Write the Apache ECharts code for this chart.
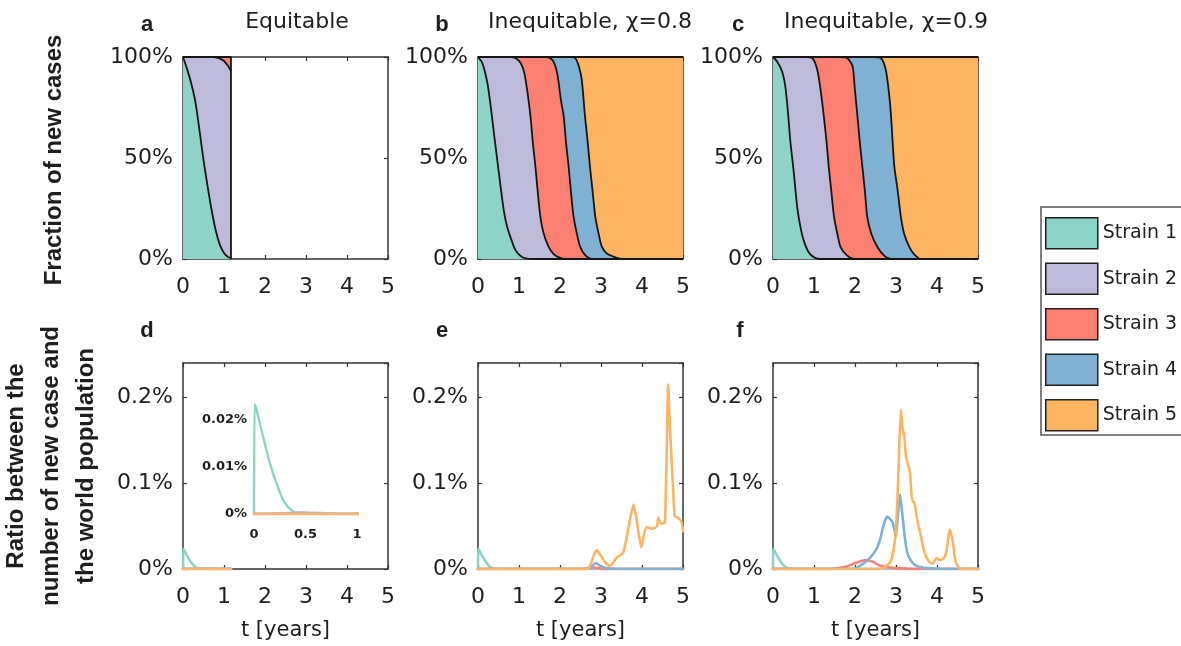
<!DOCTYPE html>
<html>
<head>
<meta charset="utf-8">
<script src="https://cdn.jsdelivr.net/npm/echarts@6/dist/echarts.min.js"></script>
<style>
  html, body { margin: 0; padding: 0; background: #fff; }
  #chart { width: 1181px; height: 646px; }
</style>
</head>
<body>
<div id="chart"></div>
<script>
// ---------------- labels ----------------
const strainNames = ['Strain 1', 'Strain 2', 'Strain 3', 'Strain 4', 'Strain 5'];
const panelLetters = ['a', 'b', 'c', 'd', 'e', 'f'];
const panelTitles = ['Equitable', 'Inequitable, χ=0.8', 'Inequitable, χ=0.9'];
const yLabelTop = 'Fraction of new cases';
const yLabelBottom = 'Ratio between the\nnumber of new case and\nthe world population';
const xLabel = 't [years]';

// ---------------- top row: cumulative share of new cases (%), strains 1..k ----------------
// Equitable (simulation stops at t = 1.17)
const aCum1 = [[0,100],[0.1,94],[0.2,87],[0.3,78],[0.4,64],[0.5,49],[0.6,36],[0.7,24],[0.8,14],[0.9,7],[1.0,3],[1.1,1],[1.17,0.5]];
const aCum2 = [[0,100],[0.75,100],[0.8,99.8],[0.9,99.2],[1.0,98],[1.1,95.5],[1.17,93]];
const aCum3 = [[0,100],[1.17,100],[1.17,0]];

// Inequitable, chi = 0.8
const bCum1 = [[0,100],[0.105,97],[0.23,87],[0.31,75.5],[0.39,62],[0.47,49],[0.55,36],[0.63,24],[0.71,16],[0.83,8.6],[0.91,4.5],[1.04,1.5],[1.16,0.3],[1.36,0],[5,0]];
const bCum2 = [[0,100],[0.8,100],[0.91,99.5],[1.04,97],[1.13,92],[1.21,82],[1.28,70.6],[1.34,57],[1.4,45.8],[1.46,32.6],[1.52,21],[1.6,12.7],[1.72,6.1],[1.84,2.5],[1.97,0.8],[2.13,0],[5,0]];
const bCum3 = [[0,100],[1.65,100],[1.76,99.5],[1.86,97],[1.94,91],[2.02,79],[2.09,70.6],[2.15,57],[2.21,45.8],[2.27,32.6],[2.33,21],[2.41,12.7],[2.49,6.1],[2.61,2],[2.78,0],[5,0]];
const bCum4 = [[0,100],[2.27,100],[2.37,99.5],[2.45,96],[2.53,88.8],[2.61,70.6],[2.68,57],[2.73,45.8],[2.8,32.6],[2.86,21],[2.94,12.7],[3.02,6.1],[3.14,2.8],[3.3,1.2],[3.46,0.2],[3.62,0],[5,0]];
const bCum5 = [[0,100],[5,100]];

// Inequitable, chi = 0.9
const cCum1 = [[0,100],[0.1,97.8],[0.22,92.9],[0.3,85.4],[0.36,73.8],[0.42,58.9],[0.51,42.3],[0.59,25.7],[0.67,15.8],[0.75,9.1],[0.87,3.3],[1.0,0.8],[1.16,0],[5,0]];
const cCum2 = [[0,100],[0.8,100],[0.96,99.5],[1.08,93.7],[1.16,83.7],[1.24,70.5],[1.31,57.2],[1.36,45.6],[1.42,34],[1.49,20.7],[1.57,12.4],[1.65,5.8],[1.81,1.7],[1.98,0],[5,0]];
const cCum3 = [[0,100],[1.65,100],[1.81,99.5],[1.94,95.4],[1.99,85.4],[2.06,70.5],[2.12,57.2],[2.18,45.6],[2.24,34],[2.3,20.7],[2.4,12.4],[2.55,5.8],[2.71,1.7],[2.88,0],[5,0]];
const cCum4 = [[0,100],[2.45,100],[2.63,99.5],[2.75,93.7],[2.83,82],[2.88,70.5],[2.92,57.2],[2.96,45.6],[3.04,34],[3.12,20.7],[3.2,12.4],[3.33,5.8],[3.45,2.2],[3.61,0],[5,0]];
const cCum5 = [[0,100],[5,100]];

// ---------------- bottom row: new cases / world population (%) ----------------
// Equitable
const dS1 = [[0,0],[0.005,0.0233],[0.02,0.0225],[0.04,0.0208],[0.06,0.019],[0.088,0.0165],[0.12,0.0136],[0.153,0.0109],[0.185,0.0086],[0.218,0.0066],[0.25,0.0047],[0.283,0.003],[0.33,0.0015],[0.38,0.0006],[0.43,0.0002],[0.48,0],[1.17,0]];
const dS2 = [[0,0],[0.25,0.0001],[0.45,0.0004],[0.65,0.0002],[0.85,0],[1.17,0]];
const dS3 = [[0,0],[1.17,0]];
const dS4 = [[0,0],[1.17,0]];
const dS5 = [[0,0],[1.17,0]];

// Inequitable, chi = 0.8
const eS1 = [[0,0],[0.005,0.0235],[0.04,0.021],[0.088,0.0165],[0.153,0.011],[0.218,0.0066],[0.283,0.003],[0.38,0.0006],[0.48,0],[5,0]];
const eS2 = [[0,0],[5,0]];
const eS3 = [[0,0],[2.6,0],[2.8,0.002],[2.95,0.001],[3.1,0],[5,0]];
const eS4 = [[0,0],[2.7,0],[2.87,0.007],[3.0,0.003],[3.2,0.0005],[3.4,0],[5,0]];
const eS5 = [[0,0],[2.69,0],[2.75,0.006],[2.89,0.022],[2.99,0.016],[3.1,0.008],[3.22,0.003],[3.38,0.013],[3.54,0.019],[3.63,0.038],[3.79,0.075],[3.87,0.057],[3.98,0.025],[4.1,0.049],[4.24,0.047],[4.36,0.049],[4.4,0.06],[4.46,0.053],[4.56,0.054],[4.64,0.215],[4.68,0.166],[4.76,0.092],[4.8,0.061],[4.88,0.06],[4.97,0.054],[5.0,0.044]];

// Inequitable, chi = 0.9
const fS1 = [[0,0],[0.005,0.0235],[0.04,0.021],[0.088,0.0165],[0.153,0.011],[0.218,0.0066],[0.283,0.003],[0.38,0.0006],[0.48,0],[5,0]];
const fS2 = [[0,0],[5,0]];
const fS3 = [[0,0],[1.4,0],[1.6,0.001],[1.8,0.003],[2.0,0.007],[2.26,0.0105],[2.45,0.008],[2.6,0.004],[2.8,0.002],[3.0,0.001],[3.3,0.0003],[3.5,0],[5,0]];
const fS4 = [[0,0],[1.9,0],[2.02,0.001],[2.3,0.01],[2.45,0.018],[2.55,0.026],[2.62,0.036],[2.67,0.046],[2.73,0.056],[2.79,0.061],[2.86,0.058],[2.92,0.054],[3.0,0.038],[3.06,0.07],[3.1,0.087],[3.16,0.061],[3.22,0.035],[3.28,0.018],[3.36,0.01],[3.45,0.005],[3.6,0.002],[3.77,0.001],[4.4,0],[5,0]];
const fS5 = [[0,0],[2.6,0],[2.67,0.001],[2.78,0.004],[2.88,0.01],[2.95,0.025],[3.0,0.046],[3.05,0.1],[3.08,0.143],[3.12,0.186],[3.15,0.17],[3.16,0.163],[3.2,0.155],[3.24,0.132],[3.29,0.122],[3.33,0.116],[3.36,0.1],[3.38,0.085],[3.42,0.078],[3.45,0.077],[3.5,0.062],[3.53,0.054],[3.6,0.04],[3.66,0.026],[3.72,0.016],[3.78,0.0105],[3.85,0.007],[3.9,0.0066],[3.98,0.0125],[4.04,0.011],[4.1,0.0105],[4.17,0.013],[4.22,0.018],[4.27,0.035],[4.31,0.046],[4.35,0.04],[4.39,0.03],[4.43,0.015],[4.47,0.0066],[4.55,0.0008],[4.6,0],[5,0]];

// ---------------- styling ----------------
const strainColors = ['#8dd3c7', '#bebada', '#fb8072', '#80b1d3', '#fdb462'];
const AXIS_COLOR = '#333';
const TEXT_COLOR = '#1e1e1e';
const SANS = 'DejaVu Sans';
const BOLD = 'Liberation Sans';

const colLeft = [183, 478, 773];
const panelW = 205;
const rowBox = [{ top: 57, h: 202 }, { top: 363, h: 206 }];

const grids = [], xAxes = [], yAxes = [], series = [];

// One boxed panel: labelled bottom/left axes, plus bare top/right axes closing the box.
function addPanel(col, row, yCfg, withXName) {
  const gi = grids.length;
  grids.push({ left: colLeft[col], top: rowBox[row].top, width: panelW, height: rowBox[row].h });
  const line = { show: true, onZero: false, lineStyle: { color: AXIS_COLOR, width: 1.5 } };
  const tick = { show: true, inside: true, length: 4, lineStyle: { color: AXIS_COLOR, width: 1.2 } };
  const xi = xAxes.length;
  const xCommon = { gridIndex: gi, type: 'value', min: 0, max: 5, interval: 1, axisLine: line, axisTick: tick, splitLine: { show: false } };
  xAxes.push(Object.assign({}, xCommon, {
    position: 'bottom',
    axisLabel: { margin: 17, color: TEXT_COLOR, fontFamily: SANS, fontSize: 22 },
    name: withXName ? xLabel : '', nameLocation: 'middle', nameGap: 51,
    nameTextStyle: { color: TEXT_COLOR, fontFamily: SANS, fontSize: 21 }
  }));
  xAxes.push(Object.assign({}, xCommon, { position: 'top', axisLabel: { show: false } }));
  const yi = yAxes.length;
  const yCommon = { gridIndex: gi, type: 'value', min: 0, max: yCfg.max, interval: yCfg.interval, axisLine: line, axisTick: tick, splitLine: { show: false } };
  yAxes.push(Object.assign({}, yCommon, {
    position: 'left',
    axisLabel: { margin: 10, color: TEXT_COLOR, fontFamily: SANS, fontSize: 22, formatter: yCfg.formatter, showMaxLabel: yCfg.showMax }
  }));
  yAxes.push(Object.assign({}, yCommon, { position: 'right', axisLabel: { show: false } }));
  return { x: xi, y: yi };
}

const shareY = { max: 100, interval: 50, showMax: true, formatter: v => v + '%' };
const ratioY = { max: 0.24, interval: 0.1, showMax: false, formatter: v => (v === 0 ? '0%' : v.toFixed(1) + '%') };

// Stacked shares: each strain region is the area under its cumulative boundary,
// drawn outermost first so the lower strains paint over it.
function addSharePanel(col, cum) {
  const ax = addPanel(col, 0, shareY, false);
  for (let k = cum.length - 1; k >= 0; k--) {
    series.push({
      type: 'line', name: strainNames[k], xAxisIndex: ax.x, yAxisIndex: ax.y,
      data: cum[k], symbol: 'none', smooth: k === cum.length - 1 ? false : 0.25,
      lineStyle: { color: '#161616', width: 1.8 },
      areaStyle: { color: strainColors[k], opacity: 1 },
      silent: true
    });
  }
}

function addLines(ax, lines, width) {
  lines.forEach((d, k) => {
    series.push({
      type: 'line', name: strainNames[k], xAxisIndex: ax.x, yAxisIndex: ax.y,
      data: d, symbol: 'none', smooth: 0.15,
      lineStyle: { color: strainColors[k], width: width, cap: 'round', join: 'round' },
      silent: true
    });
  });
}

addSharePanel(0, [aCum1, aCum2, aCum3]);
addSharePanel(1, [bCum1, bCum2, bCum3, bCum4, bCum5]);
addSharePanel(2, [cCum1, cCum2, cCum3, cCum4, cCum5]);

const dLines = [dS1, dS2, dS3, dS4, dS5];
addLines(addPanel(0, 1, ratioY, true), dLines, 2.6);
addLines(addPanel(1, 1, ratioY, true), [eS1, eS2, eS3, eS4, eS5], 2.6);
addLines(addPanel(2, 1, ratioY, true), [fS1, fS2, fS3, fS4, fS5], 2.6);

// Inset of panel d: first year, enlarged
{
  const gi = grids.length;
  grids.push({ left: 254, top: 401, width: 103, height: 113 });
  const insetLabel = { color: TEXT_COLOR, fontFamily: SANS, fontSize: 13, fontWeight: 'bold' };
  const xi = xAxes.length, yi = yAxes.length;
  xAxes.push({
    gridIndex: gi, type: 'value', min: 0, max: 1, interval: 0.5, position: 'bottom',
    axisLine: { show: false }, axisTick: { show: false }, splitLine: { show: false },
    axisLabel: Object.assign({ margin: 14 }, insetLabel)
  });
  yAxes.push({
    gridIndex: gi, type: 'value', min: 0, max: 0.024, interval: 0.01, position: 'left',
    axisLine: { show: false }, axisTick: { show: false }, splitLine: { show: false },
    axisLabel: Object.assign({ margin: 7, showMaxLabel: false, formatter: v => (v === 0 ? '0%' : v.toFixed(2) + '%') }, insetLabel)
  });
  addLines({ x: xi, y: yi }, dLines, 2.4);
}

// ---------------- text and legend frame ----------------
const graphics = [];
function txt(x, y, text, font, extra) {
  graphics.push(Object.assign({
    type: 'text', x: x, y: y,
    style: { text: text, font: font, fill: TEXT_COLOR, align: 'center', verticalAlign: 'middle', textAlign: 'center', textVerticalAlign: 'middle' }
  }, extra || {}));
}
const letterPos = [[147, 25], [442, 25], [738, 25], [147, 331], [442, 331], [740, 331]];
panelLetters.forEach((l, i) => txt(letterPos[i][0], letterPos[i][1], l, 'bold 22px ' + BOLD));
const titlePos = [[297, 22], [590, 22], [886, 22]];
panelTitles.forEach((t, i) => txt(titlePos[i][0], titlePos[i][1], t, '22px ' + SANS));
txt(54, 160, yLabelTop, 'bold 24px ' + BOLD, { rotation: Math.PI / 2 });
graphics.push({
  type: 'text', x: 51, y: 466, rotation: Math.PI / 2,
  style: { text: yLabelBottom, font: 'bold 24px ' + BOLD, fill: TEXT_COLOR, lineHeight: 35,
           align: 'center', verticalAlign: 'middle', textAlign: 'center', textVerticalAlign: 'middle' }
});
// legend frame runs off the right edge of the page
graphics.push({
  type: 'rect', shape: { x: 1041, y: 207, width: 220, height: 228 },
  style: { fill: 'none', stroke: '#555', lineWidth: 1.5 }, silent: true
});

const chart = echarts.init(document.getElementById('chart'), null, { renderer: 'canvas' });
chart.setOption({
  animation: false,
  backgroundColor: '#fff',
  grid: grids,
  xAxis: xAxes,
  yAxis: yAxes,
  series: series,
  graphic: graphics,
  legend: {
    orient: 'vertical', left: 1041, top: 207,
    padding: [10, 0, 9, 4],
    itemWidth: 52, itemHeight: 31, itemGap: 13,
    selectedMode: false,
    textStyle: { fontFamily: SANS, fontSize: 19, color: TEXT_COLOR },
    data: strainNames.map((n, i) => ({
      name: n, icon: 'rect',
      itemStyle: { color: strainColors[i], borderColor: '#222', borderWidth: 1.5 }
    }))
  }
});
</script>
</body>
</html>
